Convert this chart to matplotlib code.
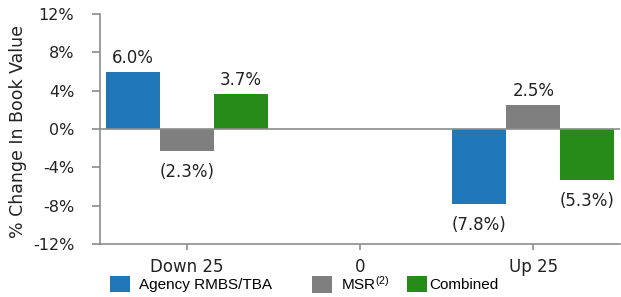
import matplotlib
matplotlib.use("Agg")
import matplotlib.pyplot as plt
import numpy as np
from matplotlib.patches import Patch

categories = ["Down 25", "0", "Up 25"]
series_names = ["Agency RMBS/TBA", "MSR$^{(2)}$", "Combined"]
agency = [6.0, 0.0, -7.8]
msr = [-2.3, 0.0, 2.5]
combined = [3.7, 0.0, -5.3]
label_show = [True, False, True]
yticks = [-12, -8, -4, 0, 4, 8, 12]
colors = ["#1f77b8", "#7f7f7f", "#268b18"]

plt.rcParams['font.family'] = ['DejaVu Sans']
plt.rcParams['mathtext.fontset'] = 'custom'
plt.rcParams['mathtext.rm'] = 'Liberation Sans'
plt.rcParams['mathtext.it'] = 'Liberation Sans'
plt.rcParams['mathtext.default'] = 'regular'

fig = plt.figure(figsize=(6.21, 2.97), dpi=100)
ax = fig.add_axes([100/621, 1-244/297, 520/621, 230/297])

x = np.arange(len(categories))
w = 0.312
gray = "#8c8c8c"
tc = "#222222"
for i, (vals, c) in enumerate(zip([agency, msr, combined], colors)):
    off = (i - 1) * w
    ax.bar(x + off, vals, width=w, color=c, zorder=2)
    for xi, v, show in zip(x, vals, label_show):
        if not show:
            continue
        if v >= 0:
            ax.annotate(f"{v:.1f}%", (xi + off, v), xytext=(0, 10), textcoords="offset points",
                        ha="center", va="center", fontsize=12, color=tc)
        else:
            ax.annotate(f"({abs(v):.1f}%)", (xi + off, v), xytext=(0, -15), textcoords="offset points",
                        ha="center", va="center", fontsize=12, color=tc)

ax.axhline(0, color=gray, lw=1.2, zorder=3)
ax.set_xlim(-0.5, 2.5)
ax.set_ylim(-12, 12)
ax.set_yticks(yticks)
ax.set_yticklabels([f"{t}%" for t in yticks], fontsize=11.5, color=tc)
ax.set_xticks(x)
ax.set_xticklabels(categories, fontsize=12, color=tc)
for s in ["top", "right"]:
    ax.spines[s].set_visible(False)
for s in ["left", "bottom"]:
    ax.spines[s].set_color(gray)
    ax.spines[s].set_linewidth(1.2)
ax.tick_params(axis="y", length=6, color=gray, width=1.2, pad=12.5)
ax.tick_params(axis="x", length=4.5, color=gray, width=1.2, pad=5.5)
ax.set_ylabel("% Change In Book Value", fontsize=12.5, color=tc)
ax.yaxis.set_label_coords(-0.14, 0.49)

# legend entries placed individually (uneven spacing in the reference)
legend_x = [110, 312, 407]
text_pads = [0.6, 0.6, 0.15]
for name, c, lx, tp in zip(series_names, colors, legend_x, text_pads):
    fig.legend([Patch(facecolor=c)], [name], loc="center left",
               bbox_to_anchor=(lx / 621, 1 - 284 / 297), frameon=False,
               prop={'family': 'Liberation Sans', 'size': 11},
               handlelength=1.3, handleheight=1.3, handletextpad=tp,
               borderpad=0, borderaxespad=0)

fig.savefig("out.png", dpi=100, facecolor="white")
